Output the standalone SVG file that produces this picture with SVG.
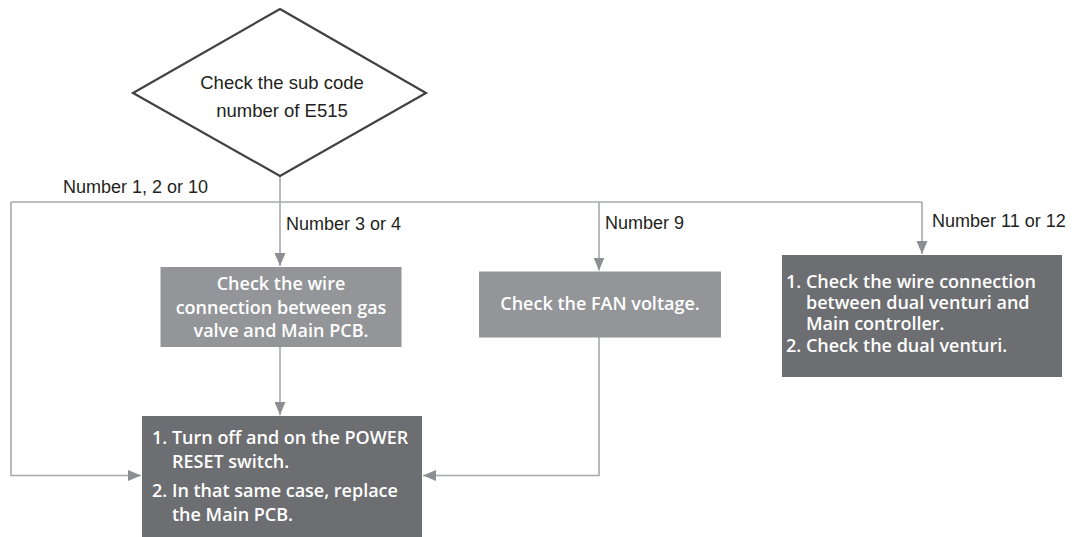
<svg xmlns="http://www.w3.org/2000/svg" width="1077" height="537" viewBox="0 0 1077 537">
<style>
.lbl{font-family:"Liberation Sans",Arial,sans-serif;font-size:18px;fill:#231f20}
.dtx{font-family:"Liberation Sans",Arial,sans-serif;font-size:18.5px;fill:#231f20;text-anchor:middle}
.bt{font-family:"Open Sans","Liberation Sans",sans-serif;font-weight:600;font-size:18px;fill:#ffffff}
.c{text-anchor:middle}
.light{fill:#939598}
.dark{fill:#6d6e71}
.conn{fill:none;stroke:#a7a9ac;stroke-width:1.6}
</style>
<defs>
<marker id="ah" markerUnits="userSpaceOnUse" markerWidth="13" markerHeight="11" refX="13" refY="5.5" orient="auto">
<path d="M0,0 L13,5.5 L0,11 z" fill="#8d8e91"/>
</marker>
</defs>
<rect width="1077" height="537" fill="#ffffff"/>
<g id="connectors">
<line class="conn" x1="280" y1="176" x2="280" y2="266" marker-end="url(#ah)"/>
<line class="conn" x1="11" y1="202" x2="922" y2="202"/>
<polyline class="conn" points="11,202 11,475.5 141,475.5" marker-end="url(#ah)"/>
<line class="conn" x1="599" y1="202" x2="599" y2="270.5" marker-end="url(#ah)"/>
<line class="conn" x1="922" y1="202" x2="922" y2="254" marker-end="url(#ah)"/>
<line class="conn" x1="280" y1="347" x2="280" y2="415" marker-end="url(#ah)"/>
<polyline class="conn" points="599,337 599,475.5 423,475.5" marker-end="url(#ah)"/>
</g>
<g id="labels">
<text class="lbl" x="63" y="193">Number 1, 2 or 10</text>
<text class="lbl" x="286" y="229.5">Number 3 or 4</text>
<text class="lbl" x="605" y="228.5">Number 9</text>
<text class="lbl" x="932" y="227">Number 11 or 12</text>
</g>
<g id="decision">
<polygon points="280,9 426,93 280,176 133,93" fill="#ffffff" stroke="#414042" stroke-width="2.2"/>
<text class="dtx" x="282" y="89">Check the sub code</text>
<text class="dtx" x="282" y="117">number of E515</text>
</g>
<g id="box-wire">
<rect class="light" x="160.5" y="267" width="241" height="80"/>
<text class="bt c" x="281" y="290">Check the wire</text>
<text class="bt c" x="281" y="313.5">connection between gas</text>
<text class="bt c" x="281" y="337">valve and Main PCB.</text>
</g>
<g id="box-fan">
<rect class="light" x="479" y="271.5" width="242" height="66"/>
<text class="bt c" x="600" y="310">Check the FAN voltage.</text>
</g>
<g id="box-venturi">
<rect class="dark" x="782" y="255" width="280" height="122"/>
<text class="bt" x="786" y="288">1. Check the wire connection</text>
<text class="bt" x="806" y="309">between dual venturi and</text>
<text class="bt" x="806" y="330">Main controller.</text>
<text class="bt" x="786" y="352">2. Check the dual venturi.</text>
</g>
<g id="box-reset">
<rect class="dark" x="142" y="416" width="280" height="121"/>
<text class="bt" x="152" y="444">1. Turn off and on the POWER</text>
<text class="bt" x="172" y="468">RESET switch.</text>
<text class="bt" x="152" y="496.5">2. In that same case, replace</text>
<text class="bt" x="172" y="520.5">the Main PCB.</text>
</g>
</svg>
